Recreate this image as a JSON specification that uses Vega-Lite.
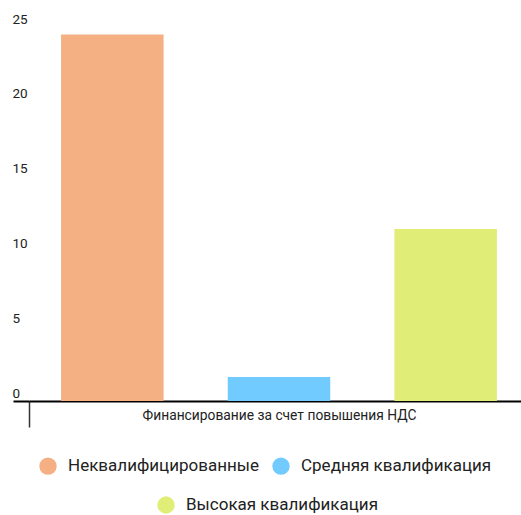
{
  "$schema": "https://vega.github.io/schema/vega-lite/v6.json",
  "width": 500,
  "height": 374,
  "autosize": "none",
  "padding": {"left": 29, "top": 27, "right": 0, "bottom": 114},
  "data": {
    "values": [
      {"category": "Финансирование за счет повышения НДС", "series": "Неквалифицированные", "value": 24.5},
      {"category": "Финансирование за счет повышения НДС", "series": "Средняя квалификация", "value": 1.6},
      {"category": "Финансирование за счет повышения НДС", "series": "Высокая квалификация", "value": 11.5}
    ]
  },
  "encoding": {
    "x": {
      "field": "category",
      "type": "nominal",
      "scale": {"paddingInner": 0, "paddingOuter": 0},
      "axis": {
        "title": null,
        "domain": true,
        "domainColor": "#000000",
        "domainWidth": 2,
        "ticks": true,
        "tickBand": "extent",
        "tickSize": 26,
        "tickColor": "#333333",
        "tickWidth": 1.5,
        "labelPadding": -19,
        "labelBaseline": "top",
        "labelFontSize": 13.8,
        "labelColor": "#222222",
        "labelAngle": 0,
        "labelLimit": 0,
        "labelFont": "Roboto"
      }
    },
    "xOffset": {
      "field": "series",
      "type": "nominal",
      "sort": ["Неквалифицированные", "Средняя квалификация", "Высокая квалификация"],
      "scale": {
        "domain": ["Неквалифицированные", "Средняя квалификация", "Высокая квалификация"],
        "paddingInner": 0.385,
        "paddingOuter": 0.1925
      }
    },
    "y": {
      "field": "value",
      "type": "quantitative",
      "scale": {"domain": [0, 25], "nice": false},
      "axis": {
        "title": null,
        "values": [0, 5, 10, 15, 20, 25],
        "grid": false,
        "domain": false,
        "ticks": true,
        "tickSize": 16,
        "tickWidth": 2,
        "tickColor": {"condition": {"test": "datum.value === 0", "value": "#000000"}, "value": "transparent"},
        "labelAlign": "left",
        "labelPadding": 1,
        "labelBaseline": "alphabetic",
        "labelOffset": -4,
        "labelFontSize": 13.5,
        "labelColor": "#222222",
        "labelFont": "Roboto"
      }
    }
  },
  "layer": [
    {
      "transform": [{"filter": "datum.series !== 'Высокая квалификация'"}],
      "mark": {"type": "bar"},
      "encoding": {
        "color": {
          "field": "series",
          "type": "nominal",
          "sort": ["Неквалифицированные", "Средняя квалификация"],
          "scale": {"domain": ["Неквалифицированные", "Средняя квалификация"], "range": ["#F4AF83", "#72CBFF"]},
          "legend": {"title": null, "orient": "none", "direction": "horizontal", "legendX": 10, "legendY": 430}
        }
      }
    },
    {
      "transform": [{"filter": "datum.series === 'Высокая квалификация'"}],
      "mark": {"type": "bar"},
      "encoding": {
        "color": {
          "field": "series",
          "type": "nominal",
          "scale": {"domain": ["Высокая квалификация"], "range": ["#E0ED76"]},
          "legend": {"title": null, "orient": "none", "direction": "horizontal", "legendX": 128, "legendY": 469}
        }
      }
    }
  ],
  "resolve": {"scale": {"color": "independent"}},
  "config": {
    "view": {"stroke": null},
    "font": "Roboto",
    "legend": {
      "symbolType": "circle",
      "symbolSize": 300,
      "symbolStrokeWidth": 0,
      "symbolOpacity": 1,
      "labelFontSize": 17,
      "labelFont": "Roboto",
      "labelColor": "#222222",
      "labelOffset": 11,
      "labelLimit": 0,
      "columnPadding": 12,
      "padding": 0
    }
  }
}
